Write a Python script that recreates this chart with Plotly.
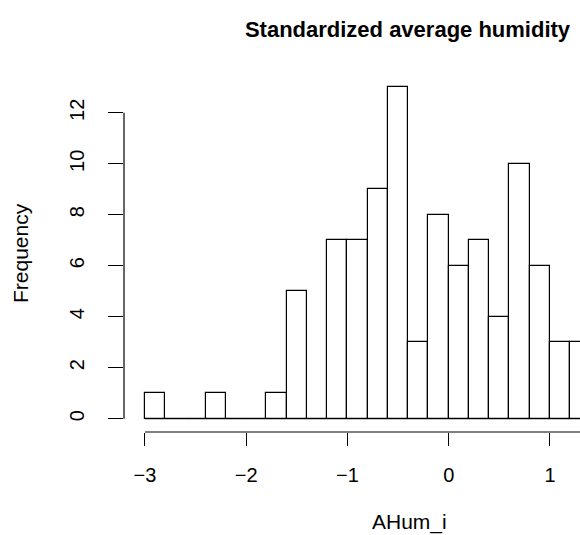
import plotly.graph_objects as go

# Histogram bins (left edges) and counts
bin_left = [-3.0, -2.8, -2.6, -2.4, -2.2, -2.0, -1.8, -1.6, -1.4, -1.2, -1.0,
            -0.8, -0.6, -0.4, -0.2, 0.0, 0.2, 0.4, 0.6, 0.8, 1.0, 1.2]
counts = [1, 0, 0, 1, 0, 0, 1, 5, 0, 7, 7, 9, 13, 3, 8, 6, 7, 4, 10, 6, 3, 3]
bin_width = 0.2

x_ticks = [-3, -2, -1, 0, 1, 2]
x_tick_labels = ["\u22123", "\u22122", "\u22121", "0", "1", "2"]
y_ticks = [0, 2, 4, 6, 8, 10, 12]
y_tick_labels = ["0", "2", "4", "6", "8", "10", "12"]

title_text = "Standardized average humidity"
x_label = "AHum_i"
y_label = "Frequency"

W, H = 580, 535
ML, MR, MT, MB = 124, 0, 74, 103
pw = W - ML - MR
ph = H - MT - MB

FONT = "Liberation Sans, Arial, Helvetica, sans-serif"

centers = [b + bin_width / 2 for b in bin_left]

fig = go.Figure()
fig.add_trace(go.Bar(
    x=centers, y=counts, width=bin_width,
    marker=dict(color="white", line=dict(color="black", width=1.2)),
    hoverinfo="x+y", showlegend=False,
))

x_lo = -3.207
x_hi = x_lo + pw / 101.25
y_lo, y_hi = -0.52, 13.52

fig.update_layout(
    width=W, height=H,
    margin=dict(l=ML, r=MR, t=MT, b=MB, pad=0),
    paper_bgcolor="white", plot_bgcolor="white",
    font=dict(family=FONT, color="black"),
    bargap=0,
    xaxis=dict(range=[x_lo, x_hi], tickvals=x_ticks, ticktext=x_tick_labels,
               ticks="outside", ticklen=13, tickwidth=1.2, tickcolor="black",
               showgrid=False, zeroline=False, showline=False,
               tickfont=dict(size=20, family=FONT), ticklabelstandoff=12),
    yaxis=dict(range=[y_lo, y_hi], tickvals=y_ticks, ticktext=y_tick_labels,
               ticks="outside", ticklen=15, tickwidth=1.2, tickcolor="black",
               showgrid=False, zeroline=False, showline=False, tickangle=-90,
               tickfont=dict(size=20, family=FONT), ticklabelstandoff=16),
    title=dict(text="<b>" + title_text + "</b>", x=407.5 / W, xanchor="center",
               y=1 - 29 / H, yanchor="middle", xref="container", yref="container",
               font=dict(size=22, family=FONT, color="black")),
)

# R-style detached axis lines spanning the tick range
fig.add_shape(type="line", xref="x", yref="paper", x0=x_ticks[0], x1=x_ticks[-1],
              y0=0, y1=0, line=dict(color="black", width=1.2))
fig.add_shape(type="line", xref="paper", yref="y", x0=0, x1=0,
              y0=y_ticks[0], y1=y_ticks[-1], line=dict(color="black", width=1.2))
# baseline of the histogram (zero-height bins)
fig.add_shape(type="line", xref="x", yref="y", x0=bin_left[0],
              x1=bin_left[-1] + bin_width, y0=0, y1=0,
              line=dict(color="black", width=1.2))

fig.add_annotation(text=x_label, xref="paper", yref="paper",
                   x=(409 - ML) / pw, y=(MT + ph - 522) / ph,
                   xanchor="center", yanchor="middle", showarrow=False,
                   font=dict(size=21, family=FONT))
fig.add_annotation(text=y_label, xref="paper", yref="paper",
                   x=(20 - ML) / pw, y=0.5, textangle=-90,
                   xanchor="center", yanchor="middle", showarrow=False,
                   font=dict(size=21, family=FONT))

fig.write_html(
    "out.html",
    config={"displayModeBar": False},
    post_script="document.body.style.margin='0';document.body.style.overflow='hidden';",
)
